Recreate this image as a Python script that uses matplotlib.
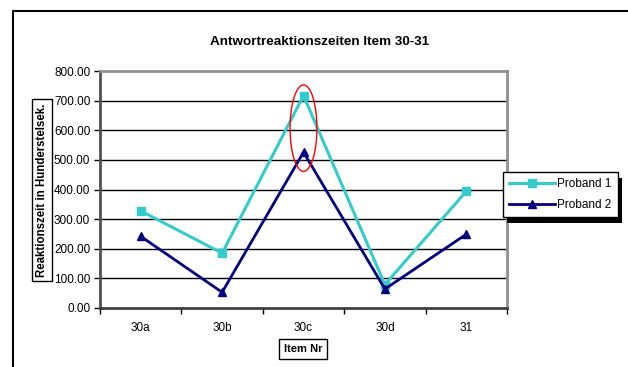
import matplotlib
matplotlib.use("Agg")
import matplotlib.pyplot as plt
from matplotlib.patches import Ellipse, Rectangle
from matplotlib.lines import Line2D

# Chart data
items = ["30a", "30b", "30c", "30d", "31"]
proband1 = [328, 185, 717, 79, 394]
proband2 = [242, 53, 526, 64, 249]
y_ticks = [0, 100, 200, 300, 400, 500, 600, 700, 800]

plt.rcParams['font.family'] = ['Liberation Sans', 'DejaVu Sans']

W, H = 628, 367
fig = plt.figure(figsize=(W / 100, H / 100), dpi=100)
fig.patch.set_facecolor('white')

def fx(px):
    return px / W

def fy(py):
    return 1 - py / H

# Plot area
ax = fig.add_axes([fx(100), fy(308), fx(507) - fx(100), fy(71) - fy(308)])
x = list(range(len(items)))

for y in y_ticks[1:-1]:
    ax.axhline(y, color='black', lw=1.0, zorder=1)

l1, = ax.plot(x, proband1, color='#33CCCC', lw=2.2, marker='s', ms=5.5,
              label='Proband 1', zorder=3)
l2, = ax.plot(x, proband2, color='#000080', lw=2.0, marker='^', ms=6,
              label='Proband 2', zorder=3)

ax.set_xlim(-0.5, len(items) - 0.5)
ax.set_ylim(y_ticks[0], y_ticks[-1])
ax.set_yticks(y_ticks)
ax.set_yticklabels([f"{v:.2f}" for v in y_ticks], fontsize=8.5)
ax.set_xticks([i - 0.5 for i in range(len(items) + 1)])
ax.set_xticklabels([])
ax.set_xticks(x, minor=True)
ax.set_xticklabels(items, minor=True, fontsize=8.5)
ax.tick_params(axis='x', which='major', length=4, width=1, color='black', direction='out')
ax.tick_params(axis='x', which='minor', length=0, pad=10)
ax.tick_params(axis='y', length=4, width=1, color='black', direction='out', pad=3)

for side in ['top', 'right']:
    ax.spines[side].set_color('#909090')
    ax.spines[side].set_linewidth(2)
ax.spines['left'].set_color('#505050')
ax.spines['left'].set_linewidth(2)
ax.spines['bottom'].set_color('#404040')
ax.spines['bottom'].set_linewidth(2)

# Highlight around the 30c peak
ax.add_patch(Ellipse((2, 607), width=0.33, height=292, fill=False,
                     edgecolor='red', lw=1.0, zorder=4))

# Titles and boxed axis labels
fig.text(fx(320), fy(42), "Antwortreaktionszeiten Item 30-31", ha='center', va='center',
         fontsize=9.7, fontweight='bold')
fig.text(fx(42), fy(190), "Reaktionszeit in Hunderstelsek.", ha='center', va='center',
         rotation=90, fontsize=8.3, fontweight='bold',
         bbox=dict(boxstyle='square,pad=0.35', facecolor='white', edgecolor='black', lw=1))
fig.text(fx(303), fy(349), "Item Nr", ha='center', va='center',
         fontsize=8, fontweight='bold',
         bbox=dict(boxstyle='square,pad=0.45', facecolor='white', edgecolor='black', lw=1))

# Legend with a hard black drop shadow
leg = fig.legend(handles=[l1, l2], loc='upper left',
                 bbox_to_anchor=(fx(503), fy(172)), fontsize=8.5,
                 frameon=True, fancybox=False, edgecolor='black', framealpha=1,
                 facecolor='white',
                 handlelength=3.9, handletextpad=0.2, labelspacing=0.75,
                 borderpad=0.5, borderaxespad=0)
leg.get_frame().set_linewidth(1)
leg.set_zorder(6)

fig.canvas.draw()
bb = leg.get_window_extent()
shadow = Rectangle((fx(bb.x0 + 4), (bb.y0 - 6) / H), bb.width / W, bb.height / H,
                   transform=fig.transFigure, facecolor='black', edgecolor='none', zorder=5)
fig.patches.append(shadow)

# Outer chart frame
fig.add_artist(Line2D([fx(13), fx(13), 1.0], [0.0, fy(11), fy(11)],
                      transform=fig.transFigure, color='black', lw=1.5))

fig.savefig("out.png", dpi=100)
